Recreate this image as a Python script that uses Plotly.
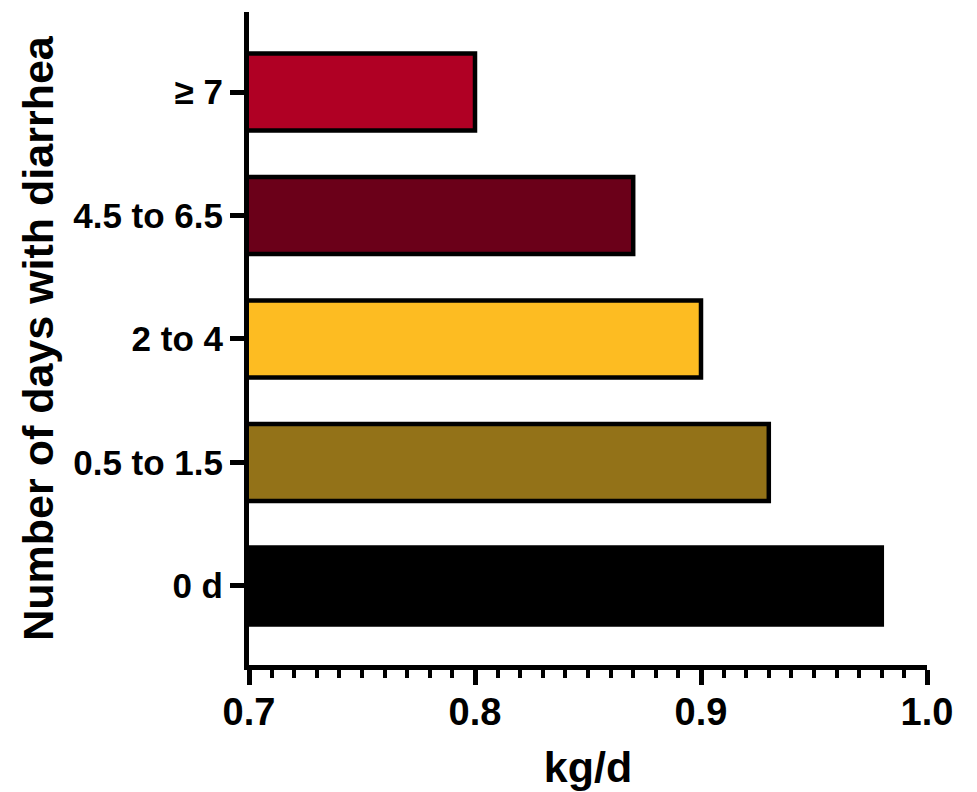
import plotly.graph_objects as go

categories = ["0 d", "0.5 to 1.5", "2 to 4", "4.5 to 6.5", "≥ 7"]
values = [0.98, 0.93, 0.90, 0.87, 0.80]
colors = ["#000000", "#937218", "#FDBC22", "#6B0019", "#B00024"]
x_ticks = [0.7, 0.8, 0.9, 1.0]
x_tick_labels = ["0.7", "0.8", "0.9", "1.0"]

FONT = "Liberation Sans"

fig = go.Figure(
    go.Bar(
        y=categories,
        x=values,
        orientation="h",
        base=0,
        width=0.625,
        marker=dict(color=colors, line=dict(color="#000000", width=4.5)),
    )
)

# page body has an 8px default margin: figure is sized to fit in the window
fig.update_layout(
    width=969,
    height=784,
    margin=dict(l=241, r=50, t=4, b=127, pad=0),
    plot_bgcolor="white",
    paper_bgcolor="white",
    showlegend=False,
    font=dict(family=FONT, color="#000000"),
)

fig.update_xaxes(
    range=[0.7, 1.0],
    tickmode="array",
    tickvals=x_ticks,
    ticktext=x_tick_labels,
    ticks="outside",
    ticklen=15,
    tickwidth=4.5,
    tickcolor="#000000",
    showline=True,
    linewidth=5,
    linecolor="#000000",
    showgrid=False,
    zeroline=False,
    ticklabelstandoff=-6,
    tickfont=dict(family=FONT, size=38, weight="bold"),
    minor=dict(dtick=0.01, ticks="outside", ticklen=8, tickwidth=4, tickcolor="#000000", showgrid=False),
    title=dict(text="kg/d", font=dict(family=FONT, size=43, weight="bold"), standoff=22),
)

fig.update_yaxes(
    type="category",
    categoryorder="array",
    categoryarray=categories,
    range=[-0.64, 4.648],
    ticks="outside",
    ticklen=14,
    tickwidth=4.5,
    tickcolor="#000000",
    showline=True,
    linewidth=5,
    linecolor="#000000",
    showgrid=False,
    zeroline=False,
    tickfont=dict(family=FONT, size=35, weight="bold"),
    title=dict(text="Number of days with diarrhea", font=dict(family=FONT, size=43, weight="bold"), standoff=8),
)

fig.write_html("out.html")
